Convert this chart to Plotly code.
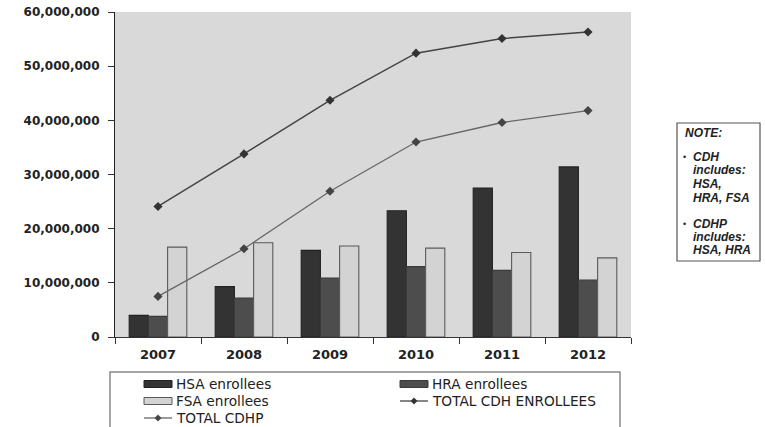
import plotly.graph_objects as go

years = ["2007", "2008", "2009", "2010", "2011", "2012"]
hsa = [4.0e6, 9.3e6, 16.0e6, 23.3e6, 27.5e6, 31.4e6]
hra = [3.8e6, 7.2e6, 10.9e6, 13.0e6, 12.3e6, 10.5e6]
fsa = [16.6e6, 17.4e6, 16.8e6, 16.4e6, 15.6e6, 14.6e6]
total_cdh = [24.1e6, 33.8e6, 43.7e6, 52.4e6, 55.1e6, 56.3e6]
total_cdhp = [7.5e6, 16.3e6, 26.9e6, 36.0e6, 39.6e6, 41.8e6]
y_ticks = [0, 10e6, 20e6, 30e6, 40e6, 50e6, 60e6]
y_tick_text = ["0", "10,000,000", "20,000,000", "30,000,000", "40,000,000", "50,000,000", "60,000,000"]
note_lines = ["NOTE:", "CDH", "includes:", "HSA,", "HRA, FSA", "CDHP", "includes:", "HSA, HRA"]

W, H = 765, 427
L, R, T, B = 115, 134, 12, 90
PW, PH = W - L - R, H - T - B


def px(x):
    return (x - L) / PW


def py(y):
    return (H - B - y) / PH


bar_styles = [
    ("HSA enrollees", hsa, "#333333", "#222222"),
    ("HRA enrollees", hra, "#4d4d4d", "#3a3a3a"),
    ("FSA enrollees", fsa, "#d3d3d3", "#5a5a5a"),
]
line_styles = [
    ("TOTAL CDH ENROLLEES", total_cdh, "#444444", "#333333", 1.5),
    ("TOTAL CDHP", total_cdhp, "#666666", "#444444", 1.3),
]

fig = go.Figure()
for name, vals, fill, edge in bar_styles:
    fig.add_bar(name=name, x=years, y=vals, marker=dict(color=fill, line=dict(color=edge, width=1.1)))
for name, vals, lc, mc, lw in line_styles:
    fig.add_scatter(name=name, x=years, y=vals, mode="lines+markers",
                    line=dict(color=lc, width=lw),
                    marker=dict(symbol="diamond", size=7, color=mc))

fig.update_layout(
    width=W, height=H,
    margin=dict(l=L, r=R, t=T, b=B, autoexpand=False),
    paper_bgcolor="white",
    plot_bgcolor="#d9d9d9",
    barmode="group",
    bargap=0.33,
    bargroupgap=0,
    font=dict(family="DejaVu Sans", color="#222222"),
    showlegend=False,
)
fig.update_xaxes(
    type="category",
    showline=True, linecolor="#333333", linewidth=1,
    ticks="outside", tickson="boundaries", ticklen=6, tickcolor="#333333",
    ticklabelstandoff=5,
    tickfont=dict(family="DejaVu Sans", size=13, color="#222222", weight="bold"),
    showgrid=False,
)
fig.update_yaxes(
    range=[0, 60e6],
    tickvals=y_ticks, ticktext=y_tick_text,
    showline=True, linecolor="#222222", linewidth=1.2,
    ticks="outside", ticklen=6, tickcolor="#333333",
    ticklabelstandoff=6,
    tickfont=dict(family="DejaVu Sans", size=12, color="#222222", weight="bold"),
    showgrid=False, zeroline=False,
)

# Legend box (drawn by hand to match the original layout)
fig.add_shape(type="rect", xref="paper", yref="paper",
              x0=px(110), x1=px(620), y0=py(440), y1=py(372),
              line=dict(color="#888888", width=1.5), fillcolor="white", layer="above")

legend_slots = [(144, 384), (400, 384), (144, 401), (400, 401), (144, 418)]
legend_font = dict(family="DejaVu Sans", size=13.7, color="#222222")
entries = [(n, "bar", fill, edge) for n, _, fill, edge in bar_styles] + \
          [(n, "line", lc, mc) for n, _, lc, mc, _ in line_styles]
for (name, kind, c1, c2), (sx, sy) in zip(entries, legend_slots):
    if kind == "bar":
        fig.add_shape(type="rect", xref="paper", yref="paper",
                      x0=px(sx), x1=px(sx + 28), y0=py(sy + 3.5), y1=py(sy - 3.5),
                      line=dict(color=c2, width=1), fillcolor=c1, layer="above")
    else:
        fig.add_shape(type="line", xref="paper", yref="paper",
                      x0=px(sx), x1=px(sx + 28), y0=py(sy), y1=py(sy),
                      line=dict(color=c1, width=1.3), layer="above")
        cx, d = sx + 14, 3.2
        path = "M {:.5f},{:.5f} L {:.5f},{:.5f} L {:.5f},{:.5f} L {:.5f},{:.5f} Z".format(
            px(cx), py(sy - d), px(cx + d), py(sy), px(cx), py(sy + d), px(cx - d), py(sy))
        fig.add_shape(type="path", xref="paper", yref="paper", path=path,
                      line=dict(color=c2, width=0.5), fillcolor=c2, layer="above")
    fig.add_annotation(xref="paper", yref="paper", x=px(sx + 30), y=py(sy),
                       xanchor="left", yanchor="middle", showarrow=False,
                       text=name, font=legend_font)

# Note box
fig.add_shape(type="rect", xref="paper", yref="paper",
              x0=px(677), x1=px(760), y0=py(123), y1=py(261),
              line=dict(color="#555555", width=1.2), fillcolor="white")

note_font = dict(family="Liberation Sans", size=12, color="#222222")
positions = [(683, 133, False), (691, 157, True), (691, 170, False), (691, 184, False),
             (691, 198, False), (691, 224, True), (691, 237, False), (691, 250, False)]
for text, (xx, yy, bullet) in zip(note_lines, positions):
    fig.add_annotation(xref="paper", yref="paper", x=px(xx), y=py(yy),
                       xanchor="left", yanchor="middle", showarrow=False,
                       text="<b><i>" + text + "</i></b>", font=note_font)
    if bullet:
        fig.add_annotation(xref="paper", yref="paper", x=px(681), y=py(yy),
                           xanchor="left", yanchor="middle", showarrow=False,
                           text="•", font=dict(family="Liberation Sans", size=9, color="#222222"))

fig.write_html("out.html")
